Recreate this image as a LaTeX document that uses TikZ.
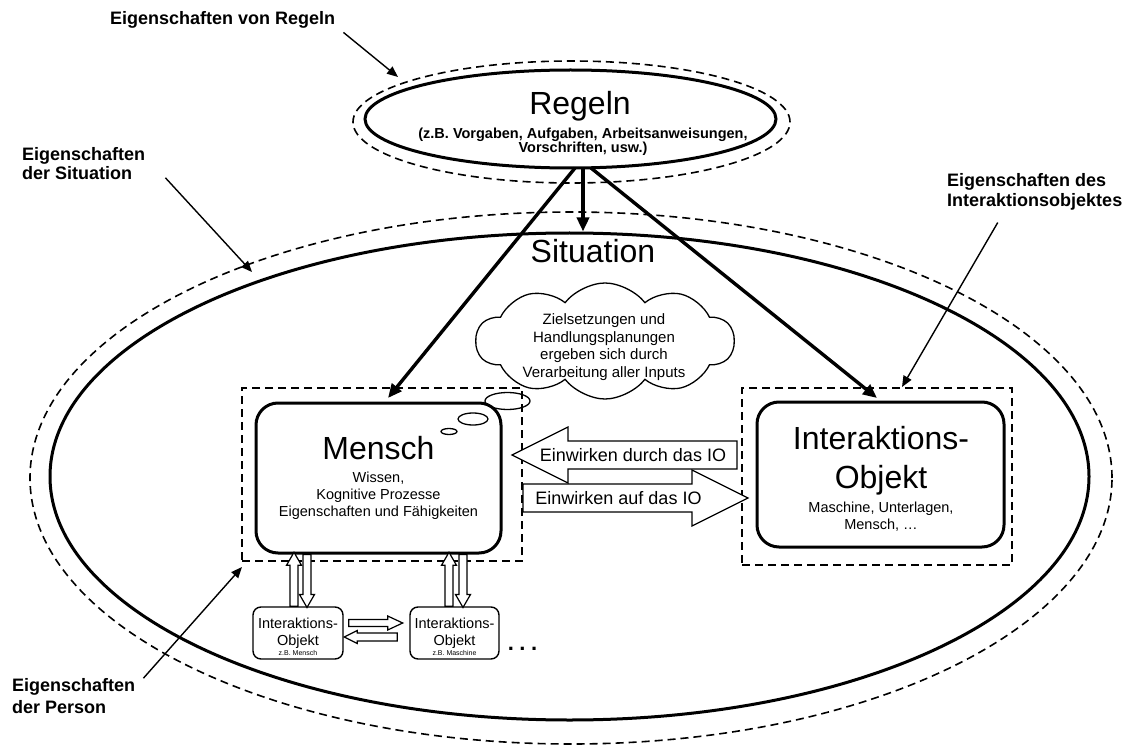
\documentclass[tikz,border=0pt]{standalone}
\usepackage{fontspec}
\setmainfont{Liberation Sans}
\usetikzlibrary{arrows.meta,shapes.geometric,shapes.symbols,positioning}

\begin{document}
\begin{tikzpicture}[x=1pt,y=-1pt,
  solidline/.style={line width=3pt},
  dashline/.style={line width=1.6pt, dash pattern=on 8pt off 5pt},
  rulearrow/.style={line width=3.4pt, -{Triangle[length=14pt,width=12pt]}},
  notearrow/.style={line width=1.4pt, -{Triangle[length=11pt,width=9pt]}},
  note/.style={font=\bfseries\fontsize{18}{#1}\selectfont, align=left, inner sep=0pt},
  note/.default=19,
  title/.style={font=\fontsize{32}{39}\selectfont, align=center, inner sep=0pt},
  detail/.style={font=\fontsize{14.5}{17}\selectfont, align=center, inner sep=0pt},
  tiny/.style={font=\fontsize{7}{8}\selectfont, inner sep=0pt},
  bigbox/.style={draw, line width=3pt, rounded corners=22pt},
  smallbox/.style={draw, line width=1.4pt, rounded corners=8pt, minimum width=90pt, minimum height=52pt},
  pics/hollow/.style n args={4}{code={%
    \draw[line width=1.2pt, fill=white] (0,-#2) -- (#1-#4,-#2) -- (#1-#4,-#3) -- (#1,0)
      -- (#1-#4,#3) -- (#1-#4,#2) -- (0,#2) -- cycle;}},
]
\useasboundingbox (0,0) rectangle (1133,746);

% rules and situation
\node[ellipse, draw, dashline, minimum width=437pt, minimum height=122pt] (regelnouter) at (571.5,122) {};
\node[ellipse, draw, solidline, fill=white, minimum width=411pt, minimum height=98pt] (regeln) at (570.5,119) {};
\node[ellipse, draw, dashline, minimum width=1082pt, minimum height=532pt] (situationouter) at (571,478) {};
\node[ellipse, draw, solidline, minimum width=1039pt, minimum height=487pt] (situation) at (569.5,476.5) {};

\node[title, anchor=base] (regelntitle) at (580,115) {Regeln};
\node[font=\bfseries\fontsize{14.5}{14}\selectfont, align=center, inner sep=0pt] (regelntext) at (583,142)
  {(z.B. Vorgaben, Aufgaben, Arbeitsanweisungen,\\Vorschriften, usw.)};
\node[title, anchor=base] (situationtitle) at (593,263) {Situation};

% thought cloud
\node[cloud, draw, line width=1.3pt, fill=white, cloud puffs=10, cloud puff arc=105, cloud ignores aspect,
  minimum width=258pt, minimum height=116pt] (cloud) at (605,341) {};
\node[font=\fontsize{15}{17.5}\selectfont, align=center, inner sep=0pt] (cloudtext) at (604,347)
  {Zielsetzungen und\\Handlungsplanungen\\ergeben sich durch\\Verarbeitung aller Inputs};

% person
\node[draw, dashline, minimum width=280pt, minimum height=173pt] (mgroup) at (382,474.5) {};
\node[bigbox, minimum width=245pt, minimum height=150pt] (mensch) at (378.5,478) {};
\node[title, anchor=base] (menschtitle) at (378.5,459) {Mensch};
\node[detail] (menschtext) at (378.5,496) {Wissen,\\Kognitive Prozesse\\Eigenschaften und Fähigkeiten};
\draw[line width=1.3pt] (507.5,401) ellipse [x radius=22.5, y radius=8.5];
\draw[line width=1.3pt] (473,419) ellipse [x radius=15, y radius=6];
\draw[line width=1.3pt] (449,431.5) ellipse [x radius=8, y radius=3];

% interaction object
\node[draw, dashline, minimum width=270pt, minimum height=177pt] (iogroup) at (877,476.5) {};
\node[bigbox, minimum width=247pt, minimum height=145pt] (io) at (880.5,474.5) {};
\node[title] (iotitle) at (881,460.5) {Interaktions-\\Objekt};
\node[detail] (iotext) at (881,516.5) {Maschine, Unterlagen,\\Mensch, …};

% rule arrows
\coordinate (rfoot) at (583,168);
\coordinate (mtip) at (388,398);
\coordinate (iotip) at (877,398);
\draw[rulearrow] (rfoot) -- (rfoot |- situation.north);
\draw[rulearrow] ([xshift=-8]rfoot) -- (mtip);
\draw[rulearrow] ([xshift=8]rfoot) -- (iotip);

% acting on / through the IO
\pic[rotate=180] at (737,455) {hollow={225}{14}{28}{56}};
\node[font=\fontsize{18}{20}\selectfont, inner sep=0pt] (durch) at (633,455) {Einwirken durch das IO};
\pic at (523,498) {hollow={225}{14}{28}{56}};
\node[font=\fontsize{18}{20}\selectfont, inner sep=0pt] (auf) at (618.5,498) {Einwirken auf das IO};

% further interaction objects
\node[smallbox] (obj1) at (298,633) {};
\node[smallbox, minimum width=89pt] (obj2) at (454.5,633) {};
\node[detail] (obj1title) at (298,632.8) {Interaktions-\\Objekt};
\node[detail] (obj2title) at (454.5,632.8) {Interaktions-\\Objekt};
\node[tiny] (obj1note) at (298,653) {z.B. Mensch};
\node[tiny] (obj2note) at (454.5,653) {z.B. Maschine};
\node[font=\bfseries\fontsize{22}{22}\selectfont, inner sep=0pt] (more) at (522.5,648.5) {.\hspace{5.5pt}.\hspace{5.5pt}.};

\pic[rotate=90] at ([xshift=-4]obj1.north) {hollow={54}{4}{7.5}{13}};
\pic[rotate=-90] at ([xshift=9]obj1.north |- mensch.south) {hollow={53}{4}{7.5}{13}};
\pic[rotate=90] at ([xshift=-5.5]obj2.north) {hollow={54}{4}{7.5}{13}};
\pic[rotate=-90] at ([xshift=8.5]obj2.north |- mensch.south) {hollow={53}{4}{7.5}{13}};
\pic at ([shift={(5,-10)}]obj1.east) {hollow={54}{3.5}{7}{15}};
\pic[rotate=180] at ([shift={(-12,4)}]obj2.west) {hollow={53}{4}{6.5}{13}};

% notes
\node[note, anchor=west] (noteregeln) at (110,19.8) {Eigenschaften von Regeln};
\node[note, anchor=west] (notesituation) at (22,164) {Eigenschaften\\der Situation};
\node[note=20, anchor=west] (noteio) at (947,192) {Eigenschaften des\\Interaktionsobjektes};
\node[note=22, anchor=west] (noteperson) at (12,696) {Eigenschaften\\der Person};

\coordinate (tipregeln) at (398,77);
\coordinate (tipsituation) at (252,272);
\coordinate (tipio) at (902,387);
\coordinate (tipperson) at (242,567);
\draw[notearrow] ([shift={(8,4)}]noteregeln.south east) -- (tipregeln);
\draw[notearrow] ([shift={(20,-2.5)}]notesituation.south east) -- (tipsituation);
\draw[notearrow] ([shift={(-37,12)}]noteio.south) -- (tipio);
\draw[notearrow] ([shift={(8,0)}]noteperson.north east) -- (tipperson);

\end{tikzpicture}
\end{document}
